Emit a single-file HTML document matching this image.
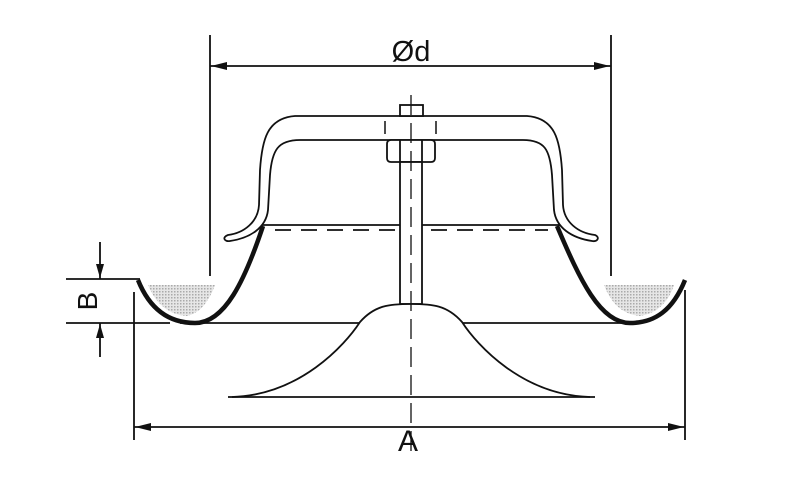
<!DOCTYPE html>
<html><head><meta charset="utf-8"><style>
html,body{margin:0;padding:0;background:#fff;}
svg{display:block;}
text{font-family:"Liberation Sans",sans-serif;fill:#111;}
</style></head><body>
<svg width="800" height="503" viewBox="0 0 800 503" xmlns="http://www.w3.org/2000/svg">
<defs>
<pattern id="dots" width="3" height="3" patternUnits="userSpaceOnUse"><rect width="3" height="3" fill="#e6e6e6"/><rect width="1.5" height="1.5" fill="#aaa"/></pattern>
</defs>
<g stroke="#111" fill="none" stroke-width="1.8">
<!-- Ød dimension -->
<line x1="210" y1="35" x2="210" y2="276"/>
<line x1="611" y1="35" x2="611" y2="276"/>
<line x1="210" y1="66" x2="611" y2="66"/>
<!-- A dimension -->
<line x1="134" y1="292" x2="134" y2="440"/>
<line x1="685" y1="290" x2="685" y2="440"/>
<line x1="134" y1="427" x2="685" y2="427"/>
<!-- B dimension -->
<line x1="66" y1="279" x2="140" y2="279"/>
<line x1="66" y1="323" x2="170" y2="323"/>
<line x1="100" y1="242" x2="100" y2="279"/>
<line x1="100" y1="357" x2="100" y2="323"/>
<!-- shading -->
<path d="M148,285 L215,285 Q205,312 187,316 Q160,314 148,285 Z" fill="url(#dots)" stroke="none"/>
<path d="M604,285 L674,285 Q665,312 640,316 Q615,314 604,285 Z" fill="url(#dots)" stroke="none"/>
<!-- bottom line -->
<line x1="180" y1="323" x2="640" y2="323"/>
<!-- bowl thick -->
<path d="M138,280 C150,310 170,323 195,323 C225,323 245,280 263,226" stroke-width="4.5"/>
<path d="M685,280 C673,310 655,323 630,323 C600,323 580,280 557,226" stroke-width="4.5"/>
<line x1="262" y1="225" x2="560" y2="225"/>
<line x1="275" y1="230" x2="548" y2="230" stroke-dasharray="16,10"/>
<!-- cap -->
<path d="M295,116 L527,116 C555,118 560,140 562,170 L563,205 C564,222 578,233 595,235 C600,237 598,242 592,241 C572,238 556,228 554,210 L552,175 C550,150 545,140 523,140 L300,140 C278,140 272,150 270,175 L268,210 C266,228 250,238 230,241 C224,242 222,237 228,235 C244,233 258,222 259,205 L260,170 C262,140 267,118 295,116 Z" fill="#fff"/>
<rect x="400" y="105" width="23" height="11" fill="#fff"/>
<line x1="385" y1="121" x2="385" y2="134" stroke-width="1.5"/>
<line x1="436" y1="121" x2="436" y2="134" stroke-width="1.5"/>
<path d="M391,140 L431,140 Q435,140 435,144 L435,158 Q435,162 431,162 L391,162 Q387,162 387,158 L387,144 Q387,140 391,140 Z" fill="#fff"/>
<line x1="400" y1="140" x2="400" y2="162"/>
<line x1="422" y1="140" x2="422" y2="162"/>
<rect x="400" y="162" width="22" height="142" fill="#fff"/>
<!-- cone -->
<path d="M232,397 C300,395 345,345 360,322 C375,305 390,304 411,304 C432,304 447,305 462,322 C477,345 522,395 590,397" fill="#fff"/>
<line x1="228" y1="397" x2="595" y2="397"/>
<line x1="411" y1="95" x2="411" y2="458" stroke-width="1.3" stroke-dasharray="20,8"/>
</g>
<g fill="#111">
<polygon points="211,66 227,62 227,70"/>
<polygon points="610,66 594,62 594,70"/>
<polygon points="135,427 151,423 151,431"/>
<polygon points="684,427 668,423 668,431"/>
<polygon points="100,278 96,264 104,264"/>
<polygon points="100,324 96,338 104,338"/>
</g>
<text x="411" y="61" font-size="29" text-anchor="middle">Ød</text>
<text x="408" y="451" font-size="30" text-anchor="middle">A</text>
<text transform="translate(97,301) rotate(-90)" font-size="28" text-anchor="middle">B</text>
</svg>
</body></html>
